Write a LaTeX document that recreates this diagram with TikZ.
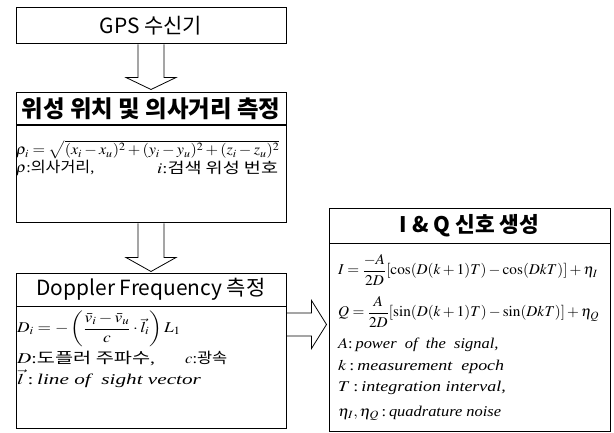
\documentclass[tikz,border=0pt]{standalone}
\usepackage{graphicx}
\usepackage{mathptmx}
\usepackage{fontspec}
\setmainfont{Liberation Serif}
\newfontfamily\kr{Noto Sans CJK KR}
\newcommand{\hstretch}[2]{\scalebox{#1}[1]{#2}}
\usetikzlibrary{positioning,calc}

\begin{document}
\begin{tikzpicture}[
		x=1bp,
		y=-1bp,
		line join=miter,
		stagebox/.style={draw,line width=1pt,inner sep=0pt,minimum width=270bp},
		titletxt/.style={font=\kr\fontsize{21}{24}\selectfont},
		titlebold/.style={font=\kr\bfseries\fontsize{23.5}{26}\selectfont},
		bodyline/.style={anchor=west,inner sep=0pt,font=\fontsize{15}{18}\selectfont},
		hollow/.style={draw,line width=0.8pt}
	]
	\useasboundingbox (0,0) rectangle (614,433);
	
	% GPS receiver
	\node[stagebox,minimum height=36bp,titletxt] (gps) at (151,26) {GPS 수신기};
	
	% Satellite position and pseudorange
	\node[stagebox,minimum height=32bp,titlebold] (postitle) at (151,109) {위성 위치 및 의사거리 측정};
	\node[stagebox,minimum height=97bp,below=0pt of postitle] (posbody) {};
	\node[bodyline] (rhoeq) at (16,150)
	{\hstretch{1.08}{$\rho_i=\sqrt{(x_i-x_u)^2+(y_i-y_u)^2+(z_i-z_u)^2}$}};
	\node[bodyline] (rhodef) at (16,168) {\hstretch{1.08}{$\rho$:{\kr 의사거리},}};
	\node[bodyline] (idef) at (157,168) {\hstretch{1.24}{$i$:{\kr 검색 위성 번호}}};
	
	% Doppler frequency
	\node[stagebox,minimum height=33bp,titletxt] (doptitle) at (151,289.5) {Doppler Frequency 측정};
	\node[stagebox,minimum height=121bp,below=0pt of doptitle] (dopbody) {};
	\node[bodyline] (dopeq) at (17,329)
	{\hstretch{1.16}{$\displaystyle D_i=-\left(\frac{\bar{v}_i-\bar{v}_u}{c}\cdot\vec{l}_i\right)L_1$}};
	\node[bodyline] (ddef) at (17,358) {\hstretch{1.32}{$D$:{\kr 도플러 주파수},}};
	\node[bodyline] (cdef) at (185,358) {\hstretch{1.1}{$c$:{\kr 광속}}};
	\node[bodyline] (ldef) at (17,379)
	{\hstretch{1.42}{$\vec{l}$\,:\,\textit{line of\ \ sight vector}}};
	
	% I & Q signal generation
	\node[stagebox,minimum width=281bp,minimum height=35bp,titlebold,font=\kr\bfseries\fontsize{21.5}{24}\selectfont] (iqtitle) at (469.5,225.5) {I \& Q 신호 생성};
	\node[stagebox,minimum width=281bp,minimum height=187bp,below=0pt of iqtitle] (iqbody) {};
	\node[bodyline] (ieq) at (338,270)
	{\hstretch{1.02}{$\displaystyle I=\frac{-A}{2D}[\cos(D(k+1)T)-\cos(DkT)]+\eta_I$}};
	\node[bodyline] (qeq) at (338,312)
	{\hstretch{1.02}{$\displaystyle Q=\frac{A}{2D}[\sin(D(k+1)T)-\sin(DkT)]+\eta_Q$}};
	\node[bodyline] (adef) at (338,345) {\hstretch{1.1}{$A$:\,\textit{power\ \ of\ \ the\ \ signal,}}};
	\node[bodyline] (kdef) at (338,367) {\hstretch{1.2}{$k$\,:\,\textit{measurement\ \ epoch}}};
	\node[bodyline] (tdef) at (338,388) {\hstretch{1.2}{$T$\,:\,\textit{integration interval,}}};
	\node[bodyline] (etadef) at (338,413) {\hstretch{1.1}{$\eta_I,\eta_Q$\,:\,\textit{quadrature noise}}};
	
	% Block arrows
	\draw[hollow] ($(gps.south)+(-13,0)$) -- ($(postitle.north)+(-13,-15)$)
	-- ($(postitle.north)+(-25,-15)$) -- ($(postitle.north)+(0,-3)$)
	-- ($(postitle.north)+(25,-15)$) -- ($(postitle.north)+(13,-15)$)
	-- ($(gps.south)+(13,0)$);
	\draw[hollow] ($(posbody.south)+(-13,0)$) -- ($(doptitle.north)+(-13,-15)$)
	-- ($(doptitle.north)+(-25,-15)$) -- ($(doptitle.north)+(0,-1)$)
	-- ($(doptitle.north)+(25,-15)$) -- ($(doptitle.north)+(13,-15)$)
	-- ($(posbody.south)+(13,0)$);
	\coordinate (dopout) at ($(dopbody.north east)+(0,18)$);
	\coordinate (iqin) at (iqbody.west |- dopout);
	\draw[hollow] ($(dopout)+(0,-11.5)$) -- ($(iqin)+(-17,-11.5)$)
	-- ($(iqin)+(-17,-24)$) -- ($(iqin)+(-2,0)$)
	-- ($(iqin)+(-17,24)$) -- ($(iqin)+(-17,11.5)$)
	-- ($(dopout)+(0,11.5)$);
	
\end{tikzpicture}
\end{document}
